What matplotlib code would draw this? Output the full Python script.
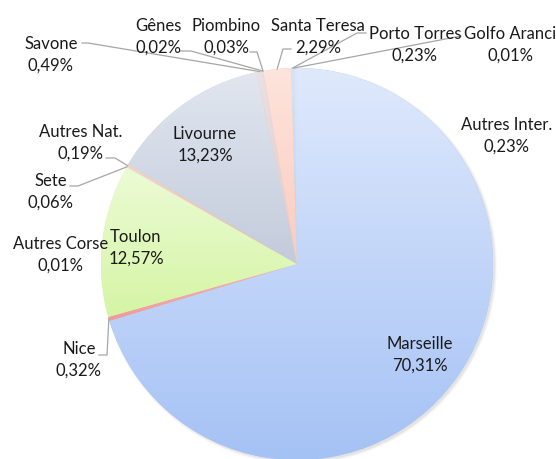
import numpy as np
import matplotlib
matplotlib.use('Agg')
from matplotlib import pyplot as plt
from matplotlib.colors import LinearSegmentedColormap
from matplotlib.patches import Circle

ports = ['Marseille', 'Nice', 'Autres Corse', 'Toulon', 'Sete', 'Autres Nat.', 'Livourne',
         'Savone', 'Gênes', 'Piombino', 'Santa Teresa', 'Porto Torres', 'Golfo Aranci', 'Autres Inter.']
shares = [70.31, 0.32, 0.01, 12.57, 0.06, 0.19, 13.23, 0.49, 0.02, 0.03, 2.29, 0.23, 0.01, 0.23]

# gradient fill per slice: (top, bottom)
fills = [('#dfe9fc', '#a5c2f5'), ('#f7b3b0', '#f29a98'), ('#cfe0f7', '#b9d0f2'),
         ('#ecfbd6', '#d5f5a4'), ('#e4eaf3', '#c9d2e2'), ('#fbd3bd', '#f6b99c'),
         ('#e1e6ef', '#c3cbdb'), ('#ede0e0', '#dccaca'), ('#dde6f2', '#c9d5e8'),
         ('#f6dede', '#eac8c8'), ('#fde4dc', '#fbcbbf'), ('#d6e4f7', '#bcd1f0'),
         ('#eef7c0', '#dbef9c'), ('#dde7f7', '#c5d6f2')]

W, H = 556, 459
CX, CY, R = 297, 264, 196  # pie centre / radius in pixels (y from top)

# label centres in pixels (y from top)
label_xy = {
    'Marseille': (420, 355), 'Nice': (79, 360), 'Autres Corse': (61, 255), 'Toulon': (136, 248),
    'Sete': (51, 192), 'Autres Nat.': (81, 143), 'Livourne': (205, 145), 'Savone': (51, 55),
    'Gênes': (158, 37), 'Piombino': (226, 37), 'Santa Teresa': (318, 37), 'Porto Torres': (415, 45),
    'Golfo Aranci': (510, 45), 'Autres Inter.': (507, 136),
}
# leader lines: (start x, start y, elbow x), end is on the slice edge
leaders = {
    'Nice': (99, 355, 107), 'Sete': (70, 186, 78), 'Autres Nat.': (106, 158, 115),
    'Savone': (82, 43, 88), 'Gênes': (180, 51, 191), 'Piombino': (250, 52, 257),
    'Santa Teresa': (291, 49, 283), 'Porto Torres': (366, 33, 357), 'Golfo Aranci': (461, 36, 461),
}

plt.rcParams['font.family'] = ['Lato', 'DejaVu Sans']

fig = plt.figure(figsize=(W / 100, H / 100), dpi=100)
ax = fig.add_axes([0, 0, 1, 1])

# soft shadow
for k, a in enumerate([0.05, 0.07, 0.10]):
    ax.add_patch(Circle((CX + 2, H - CY - 2), R + 2 - k, color='#808080', alpha=a, lw=0, zorder=0))

wedges, _ = ax.pie(shares, colors=[f[1] for f in fills], startangle=90, counterclock=False,
                   center=(CX, H - CY), radius=R, frame=True, wedgeprops=dict(linewidth=0))

grad = np.linspace(0, 1, 256)[:, None]
for w, (c_top, c_bot) in zip(wedges, fills):
    w.set_zorder(1)
    ext = w.get_path().get_extents()
    cmap = LinearSegmentedColormap.from_list('g', [c_bot, c_top])
    im = ax.imshow(grad, cmap=cmap, origin='lower', aspect='auto', interpolation='bilinear',
                   extent=(ext.x0, ext.x1, ext.y0, ext.y1), zorder=2)
    im.set_clip_path(w)

for w, name, val in zip(wedges, ports, shares):
    lx, ly = label_xy[name]
    pct = f'{val:.2f}%'.replace('.', ',')
    ax.text(lx, H - ly, f'{name}\n{pct}', ha='center', va='center', fontsize=12,
            color='#1a1a1a', linespacing=1.42, zorder=5)
    if name in leaders:
        sx, sy, ex = leaders[name]
        mid = np.deg2rad((w.theta1 + w.theta2) / 2)
        px, py = CX + R * np.cos(mid), H - CY + R * np.sin(mid)
        ax.plot([sx, ex, px], [H - sy, H - sy, py], color='#a6a6a6', lw=0.9, zorder=4)

ax.set_xlim(0, W)
ax.set_ylim(0, H)
ax.axis('off')
fig.savefig('out.png', dpi=100)
